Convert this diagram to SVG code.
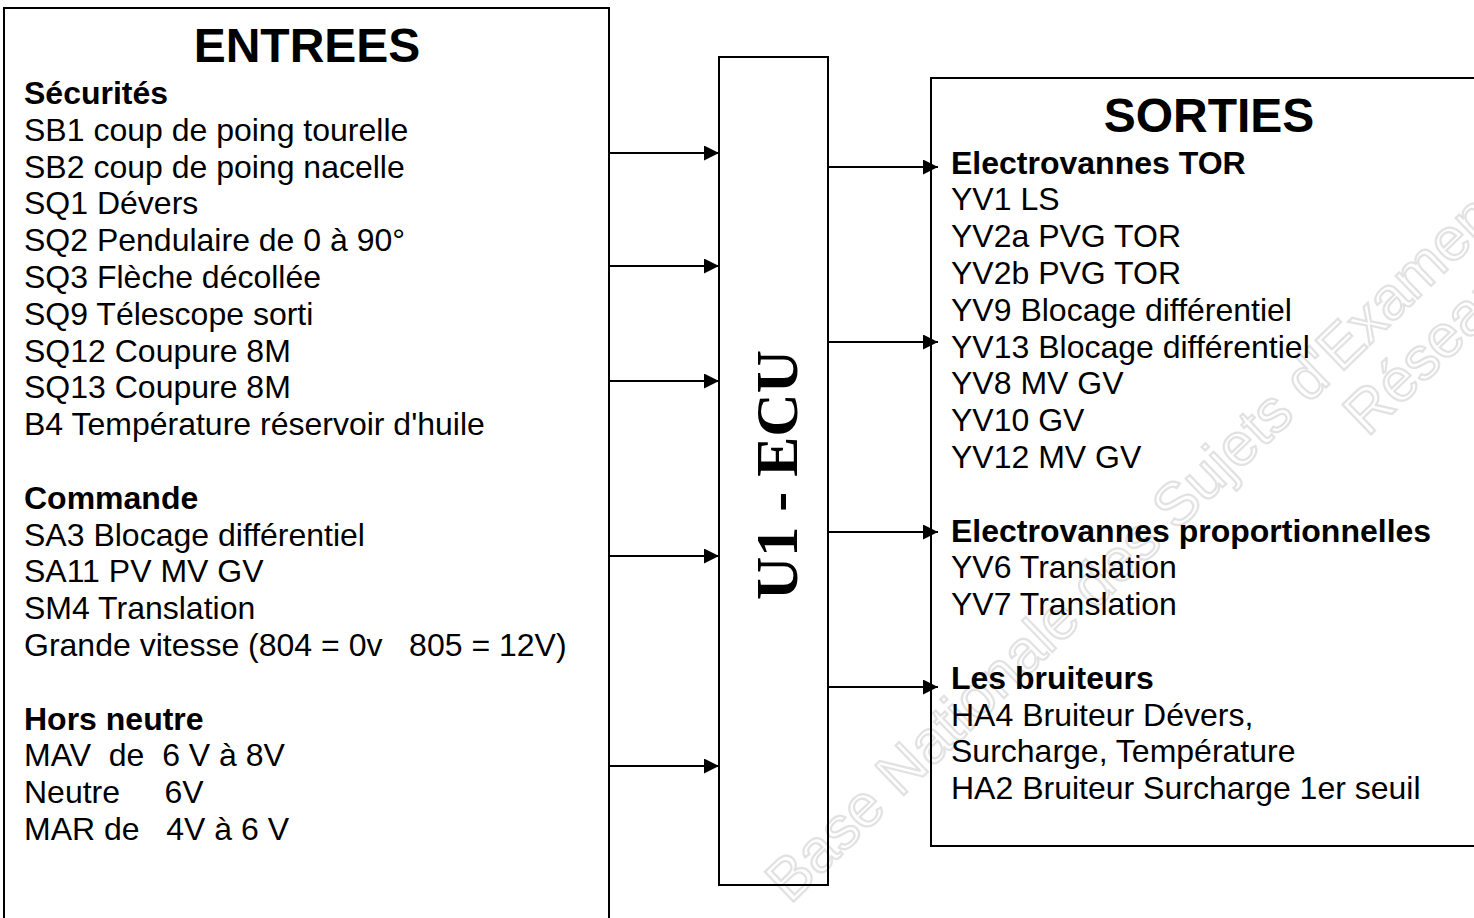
<svg xmlns="http://www.w3.org/2000/svg" width="1474" height="918" viewBox="0 0 1474 918">
<style>
.box{fill:none;stroke:#000;stroke-width:2}
.t{font-family:"Liberation Sans",Arial,sans-serif;font-size:32px;fill:#000}
.b{font-weight:bold}
.h{font-family:"Liberation Sans",Arial,sans-serif;font-size:48px;font-weight:bold;fill:#000;text-anchor:middle}
.ecu{font-family:"Liberation Serif","Times New Roman",serif;font-size:60px;font-weight:bold;fill:#000;text-anchor:middle}
.wm{font-family:"Liberation Sans",Arial,sans-serif;font-size:60px;fill:none;stroke:#e2e2e2;stroke-width:2.2}
.c{stroke:#000;stroke-width:2;fill:none;marker-end:url(#arr)}
</style>
<defs>
<marker id="arr" markerUnits="userSpaceOnUse" markerWidth="16" markerHeight="16" refX="15" refY="7.5" orient="auto">
<path d="M0,0 L15,7.5 L0,15 z" fill="#000"/>
</marker>
</defs>
<rect width="1474" height="918" fill="#fff"/>
<g id="watermark" transform="translate(790,905) rotate(-44)">
<text class="wm" x="0" y="0" font-size="60">Base Nationale des Sujets d'Examens</text>
<text class="wm" x="740" y="65">Réseau</text>
</g>
<g id="entrees">
<rect class="box" x="4" y="8" width="605" height="930"/>
<text class="h" x="307" y="62">ENTREES</text>
<text class="t b" x="24" y="104">Sécurités</text>
<text class="t" x="24" y="141">SB1 coup de poing tourelle</text>
<text class="t" x="24" y="178">SB2 coup de poing nacelle</text>
<text class="t" x="24" y="214">SQ1 Dévers</text>
<text class="t" x="24" y="251">SQ2 Pendulaire de 0 à 90°</text>
<text class="t" x="24" y="288">SQ3 Flèche décollée</text>
<text class="t" x="24" y="325">SQ9 Télescope sorti</text>
<text class="t" x="24" y="362">SQ12 Coupure 8M</text>
<text class="t" x="24" y="398">SQ13 Coupure 8M</text>
<text class="t" x="24" y="435">B4 Température réservoir d'huile</text>
<text class="t b" x="24" y="509">Commande</text>
<text class="t" x="24" y="546">SA3 Blocage différentiel</text>
<text class="t" x="24" y="582">SA11 PV MV GV</text>
<text class="t" x="24" y="619">SM4 Translation</text>
<text class="t" x="24" y="656" xml:space="preserve">Grande vitesse (804 = 0v   805 = 12V)</text>
<text class="t b" x="24" y="730">Hors neutre</text>
<text class="t" x="24" y="766" xml:space="preserve">MAV  de  6 V à 8V</text>
<text class="t" x="24" y="803" xml:space="preserve">Neutre     6V</text>
<text class="t" x="24" y="840" xml:space="preserve">MAR de   4V à 6 V</text>
</g>
<g id="ecu">
<rect class="box" x="719" y="57" width="109" height="828"/>
<text class="ecu" transform="translate(797,475) rotate(-90)">U1 - ECU</text>
</g>
<g id="sorties">
<rect class="box" x="931" y="78" width="600" height="768"/>
<text class="h" x="1209" y="132">SORTIES</text>
<text class="t b" x="951" y="174">Electrovannes TOR</text>
<text class="t" x="951" y="210">YV1 LS</text>
<text class="t" x="951" y="247">YV2a PVG TOR</text>
<text class="t" x="951" y="284">YV2b PVG TOR</text>
<text class="t" x="951" y="321">YV9 Blocage différentiel</text>
<text class="t" x="951" y="358">YV13 Blocage différentiel</text>
<text class="t" x="951" y="394">YV8 MV GV</text>
<text class="t" x="951" y="431">YV10 GV</text>
<text class="t" x="951" y="468">YV12 MV GV</text>
<text class="t b" x="951" y="542">Electrovannes proportionnelles</text>
<text class="t" x="951" y="578">YV6 Translation</text>
<text class="t" x="951" y="615">YV7 Translation</text>
<text class="t b" x="951" y="689">Les bruiteurs</text>
<text class="t" x="951" y="726">HA4 Bruiteur Dévers,</text>
<text class="t" x="951" y="762">Surcharge, Température</text>
<text class="t" x="951" y="799">HA2 Bruiteur Surcharge 1er seuil</text>
</g>
<g id="connectors">
<line class="c" x1="609" y1="153" x2="719" y2="153"/>
<line class="c" x1="609" y1="266" x2="719" y2="266"/>
<line class="c" x1="609" y1="381" x2="719" y2="381"/>
<line class="c" x1="609" y1="556" x2="719" y2="556"/>
<line class="c" x1="609" y1="766" x2="719" y2="766"/>
<line class="c" x1="828" y1="167" x2="938" y2="167"/>
<line class="c" x1="828" y1="342" x2="938" y2="342"/>
<line class="c" x1="828" y1="532" x2="938" y2="532"/>
<line class="c" x1="828" y1="687" x2="938" y2="687"/>
</g>
</svg>
